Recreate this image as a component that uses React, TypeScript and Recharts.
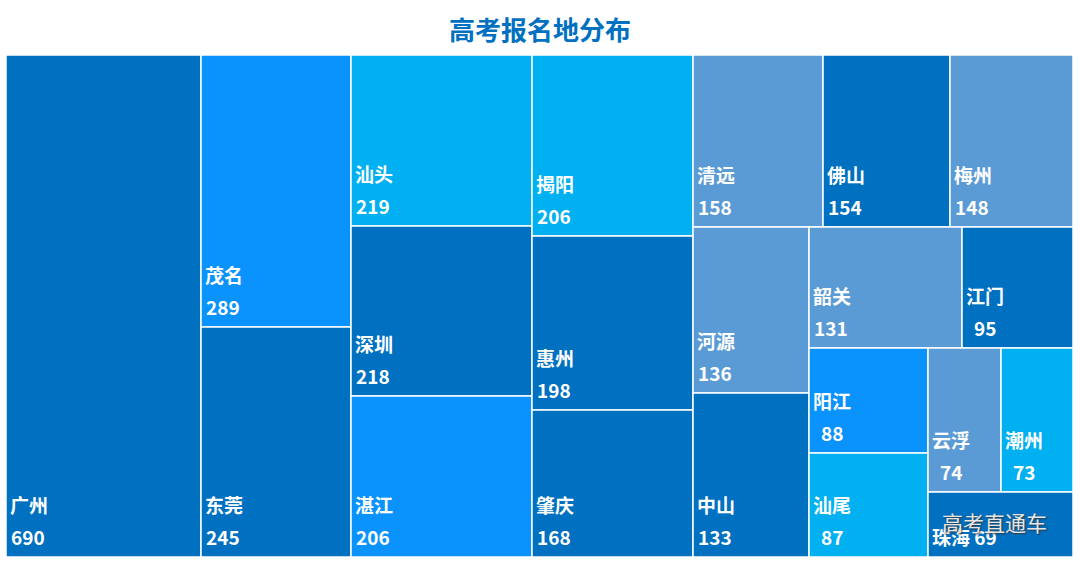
import React from 'react'
import { Treemap } from 'recharts'

// city names and number of registrations, biggest first
const cities = ['广州', '茂名', '东莞', '汕头', '深圳', '湛江', '揭阳', '惠州', '肇庆', '清远', '佛山', '梅州', '河源', '中山', '韶关', '江门', '阳江', '汕尾', '云浮', '潮州', '珠海']
const counts = [690, 289, 245, 219, 218, 206, 206, 198, 168, 158, 154, 148, 136, 133, 131, 95, 88, 87, 74, 73, 69]

// which tone each city uses (index into palette)
const tones = [0, 1, 0, 2, 0, 1, 2, 0, 0, 3, 0, 3, 3, 0, 3, 0, 1, 2, 3, 2, 0]
const palette = ['#0070C0', '#0B93FD', '#00B0F0', '#5B9BD5']

// column groups, so the layout comes out as stacked columns like the original
const groups = [[0], [1, 2], [3, 4, 5], [6, 7, 8], [9, 10, 11, 12, 13, 14, 15, 16, 17, 18, 19, 20]]

type Node = { name: string; value?: number; tone?: number; children?: Node[] }

const leaf = (i: number): Node => ({ name: cities[i], value: counts[i], tone: tones[i] })
const groupNode = (g: number[]): Node => (g.length === 1 ? leaf(g[0]) : { name: '', children: g.map(leaf) })
const chain = (gs: number[][]): Node =>
  gs.length === 1 ? groupNode(gs[0]) : { name: '', children: [groupNode(gs[0]), chain(gs.slice(1))] }

const treeData = chain(groups).children as Node[]

const font = '"Noto Sans CJK SC", "Noto Sans", sans-serif'

function Cell(props: any) {
  const { x, y, width, height, name, value, children, tone } = props
  if (children && children.length) return <g />
  const bottom = y + height
  // two-digit numbers sit one space further right, as in the original
  const dx = value < 100 ? 7 : 0
  return (
    <g>
      <rect x={x} y={y} width={width} height={height} fill={palette[tone ?? 0]} stroke="#fff" strokeWidth={1.5} />
      {height < 80 ? (
        <text x={x + 4} y={bottom - 12} fill="#fff" fontSize={19} fontWeight={700} fontFamily={font}>
          {name} {value}
        </text>
      ) : (
        <>
          <text x={x + 4} y={bottom - 44} fill="#fff" fontSize={19} fontWeight={700} fontFamily={font}>
            {name}
          </text>
          <text x={x + 5 + dx} y={bottom - 12} fill="#fff" fontSize={19} fontWeight={700} fontFamily={font}>
            {value}
          </text>
        </>
      )}
    </g>
  )
}

export default function App() {
  return (
    <div style={{ position: 'absolute', left: 0, top: 0, width: 1080, height: 564, background: '#fff', fontFamily: font }}>
      <div
        style={{
          position: 'absolute',
          top: 14,
          left: 0,
          width: 1080,
          textAlign: 'center',
          fontSize: 26,
          fontWeight: 700,
          lineHeight: '30px',
          color: '#0070C0',
        }}
      >
        高考报名地分布
      </div>
      <div style={{ position: 'absolute', left: 6, top: 55 }}>
        <Treemap
          width={1067}
          height={502}
          data={treeData}
          dataKey="value"
          nameKey="name"
          aspectRatio={1}
          isAnimationActive={false}
          content={<Cell />}
        />
      </div>
      <div
        style={{
          position: 'absolute',
          left: 942,
          top: 510,
          fontSize: 21,
          lineHeight: '24px',
          color: '#e6e6e6',
          textShadow: '1px 1px 2px #333',
        }}
      >
        高考直通车
      </div>
    </div>
  )
}
